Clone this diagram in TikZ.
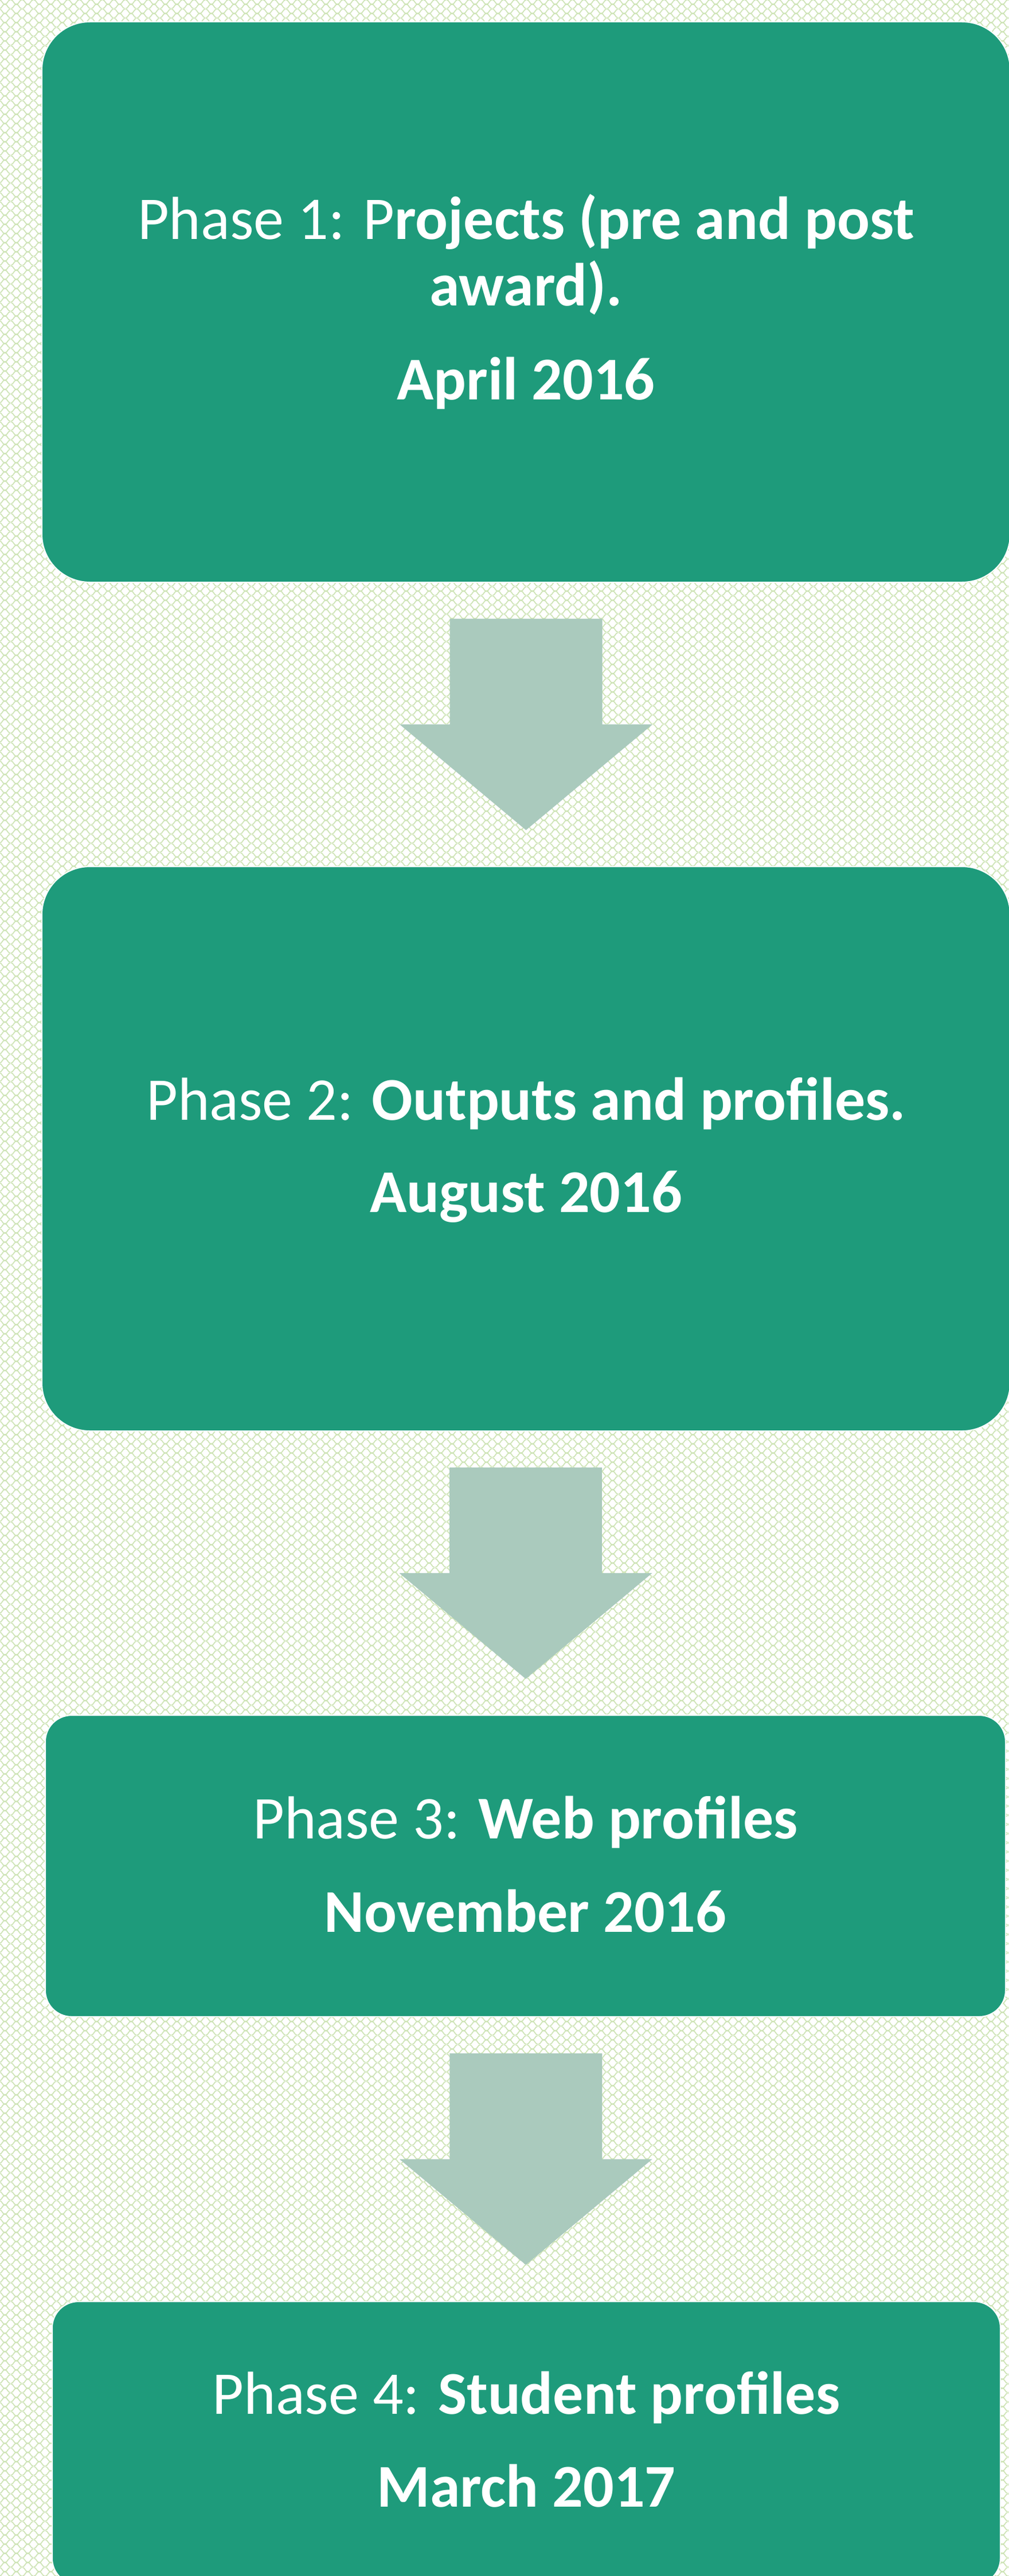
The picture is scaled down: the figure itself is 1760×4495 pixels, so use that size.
\documentclass[tikz,border=0pt]{standalone}
\usepackage{fontspec}
\setmainfont{Carlito}
\usetikzlibrary{calc,patterns}
\definecolor{boxgreen}{RGB}{30,155,123}
\definecolor{arrowgreen}{RGB}{170,202,189}
\definecolor{patgreen}{RGB}{206,228,182}
\pgfdeclarepatternformonly{ogee}{\pgfpointorigin}{\pgfpoint{10pt}{8pt}}{\pgfpoint{10pt}{8pt}}{%
  \pgfsetlinewidth{0.9pt}%
  \pgfpathmoveto{\pgfpoint{0pt}{0pt}}%
  \pgfpathcurveto{\pgfpoint{2.5pt}{0pt}}{\pgfpoint{2.5pt}{4pt}}{\pgfpoint{5pt}{4pt}}%
  \pgfpathcurveto{\pgfpoint{7.5pt}{4pt}}{\pgfpoint{7.5pt}{0pt}}{\pgfpoint{10pt}{0pt}}%
  \pgfpathmoveto{\pgfpoint{0pt}{8pt}}%
  \pgfpathcurveto{\pgfpoint{2.5pt}{8pt}}{\pgfpoint{2.5pt}{4pt}}{\pgfpoint{5pt}{4pt}}%
  \pgfpathcurveto{\pgfpoint{7.5pt}{4pt}}{\pgfpoint{7.5pt}{8pt}}{\pgfpoint{10pt}{8pt}}%
  \pgfusepath{stroke}%
}
\begin{document}
\begin{tikzpicture}[x=0.5pt,y=-0.5pt,
  phasebox/.style={rectangle,draw=white,line width=1pt,fill=boxgreen,inner sep=0pt},
  bigcorner/.style={rounded corners=42pt},
  smallcorner/.style={rounded corners=23pt},
  txt/.style={text=white,anchor=base,inner sep=0pt,font=\fontsize{53}{58}\selectfont},
  flowarrow/.pic={\fill[arrowgreen] (-133,-184.5) -- (133,-184.5) -- (133,0) -- (220.5,0) -- (0,184.5) -- (-220.5,0) -- (-133,0) -- cycle;}
]
% background
\fill[white] (0,0) rectangle (1760,4495);
\fill[pattern=ogee,pattern color=patgreen] (0,0) rectangle (1760,4495);
\useasboundingbox (0,0) rectangle (1760,4495);

% boxes
\node[phasebox,bigcorner,minimum width=844.5pt,minimum height=489pt] (b1) at (917.5,527) {};
\node[phasebox,bigcorner,minimum width=844.5pt,minimum height=492.5pt] (b2) at (917.5,2004.5) {};
\node[phasebox,smallcorner,minimum width=837.5pt,minimum height=263pt] (b3) at (916.5,3256) {};
\node[phasebox,smallcorner,minimum width=827pt,minimum height=247pt] (b4) at (918,4263) {};

% texts
\node[txt] (t1a) at (917.5,417) {Phase 1: P\textbf{rojects (pre and post}};
\node[txt] (t1b) at (917.5,533) {\textbf{award).}};
\node[txt] (t1c) at (917.5,697) {\textbf{April 2016}};
\node[txt] (t2a) at (917.5,1954) {Phase 2: \textbf{Outputs and profiles.}};
\node[txt] (t2b) at (917.5,2115) {\textbf{August 2016}};
\node[txt] (t3a) at (916.5,3208) {Phase 3: \textbf{Web profiles}};
\node[txt] (t3b) at (916.5,3371) {\textbf{November 2016}};
\node[txt] (t4a) at (918,4212) {Phase 4: \textbf{Student profiles}};
\node[txt] (t4b) at (918,4374) {\textbf{March 2017}};

% arrows between boxes
\pic (a1) at ($(b1.south)!0.5!(b2.north)$) {flowarrow};
\pic (a2) at ($(b2.south)!0.5!(b3.north)$) {flowarrow};
\pic (a3) at ($(b3.south)!0.5!(b4.north)$) {flowarrow};
\end{tikzpicture}
\end{document}
